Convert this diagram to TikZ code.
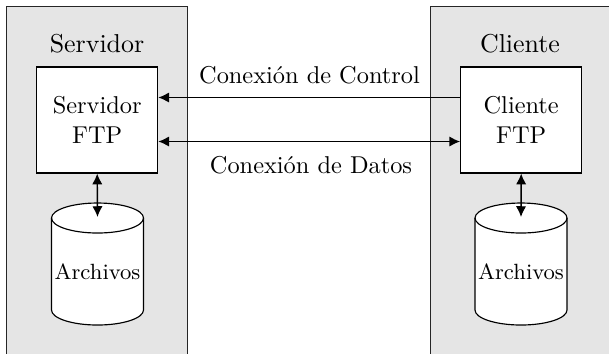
\documentclass[tikz,border=0pt]{standalone}
\usetikzlibrary{arrows.meta,calc}
\begin{document}
\begin{tikzpicture}[x=0.39pt,y=-0.39pt,
  panel/.style={draw=black!85,fill=black!10,line width=0.55pt},
  ftpbox/.style={draw,fill=white,line width=0.45pt,align=center,
    minimum width=47.2pt,minimum height=41.3pt,inner sep=0pt,
    font=\fontsize{9.5}{11.7}\selectfont},
  title/.style={inner sep=0pt,font=\fontsize{10.1}{12}\selectfont},
  linklabel/.style={inner sep=0pt,font=\fontsize{9.5}{11.5}\selectfont},
  link/.style={line width=0.55pt,-{Latex[length=4.2pt,width=4pt]}},
  blink/.style={line width=0.55pt,{Latex[length=4.2pt,width=4pt]}-{Latex[length=4.2pt,width=4pt]}},
  storage/.style={draw,fill=white,line width=0.45pt},
  dbtext/.style={inner sep=0pt,font=\fontsize{8.6}{10}\selectfont}]
\useasboundingbox (0,0) rectangle (609,353);
% host panels, both running past the page edge
\draw[panel] (6.5,6.5) rectangle (187.5,370);
\draw[panel] (430.5,6.5) rectangle (630,370);
\node[title] (tS) at (97,44) {Servidor};
\node[title] (tC) at (520,44) {Cliente};
% FTP processes
\node[ftpbox] (srv) at (97.2,120) {Servidor\\FTP};
\node[ftpbox] (cli) at (521.2,120) {Cliente\\FTP};
% file stores (cylinders); y grows downwards here
\foreach \cx/\nm in {97.5/S,521/C}{
  \draw[storage] (\cx-46,218) -- (\cx-46,310)
    arc[start angle=180,end angle=0,x radius=46,y radius=15]
    -- (\cx+46,218)
    arc[start angle=0,end angle=-180,x radius=46,y radius=15] -- cycle;
  \draw[storage,fill=none] (\cx-46,218) arc[start angle=180,end angle=0,x radius=46,y radius=15];
  \coordinate (top\nm) at (\cx,217);
}
\node[dbtext] (dbS) at (97.5,272) {Archivos};
\node[dbtext] (dbC) at (521,272) {Archivos};
% connections
\draw[link] (cli.west |- 0,97.5) coordinate (c1) -- (srv.east |- c1);
\draw[blink] (srv.east |- 0,141.5) coordinate (d1) -- (cli.west |- d1);
\node[linklabel] (lc) at (309.5,75) {Conexión de Control};
\node[linklabel] (ld) at (311,165) {Conexión de Datos};
\draw[blink] (srv.south) -- (topS);
\draw[blink] (cli.south) -- (topC);
\end{tikzpicture}
\end{document}
